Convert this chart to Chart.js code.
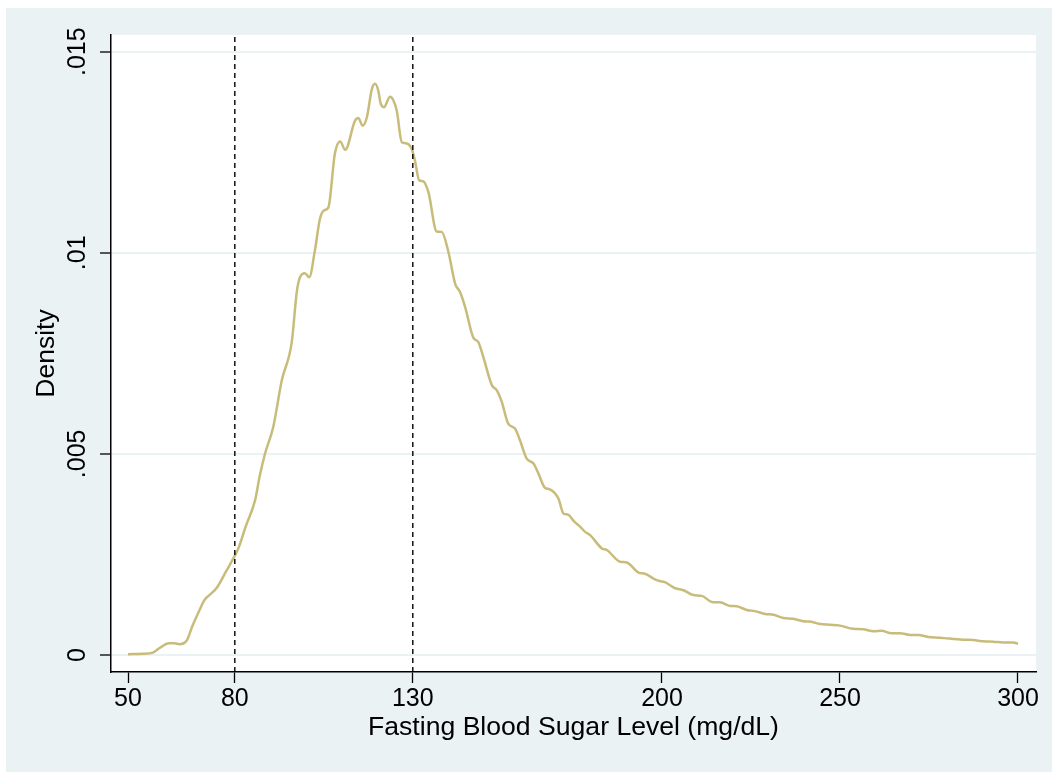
<!DOCTYPE html>
<html>
<head>
<meta charset="utf-8">
<script src="https://cdn.jsdelivr.net/npm/chart.js@4.4.0/dist/chart.umd.min.js"></script>
<style>
  html, body { margin: 0; padding: 0; background: #fff; }
</style>
</head>
<body>
<canvas id="graficoDensidad" width="1052" height="772"></canvas>
<script>
// valores (mg/dL, densidad)
let sugarLevels = [
  50, 54, 57, 59, 61.5, 63, 64.5, 66.5, 68, 70, 71.5, 73, 75, 77.5, 80, 81, 83, 85.7, 87, 88.5,
  90.8, 93.2, 96, 97.4, 98.3, 99.7, 100.9, 102.5, 103.9, 105, 106.3, 108.1, 109.6, 111, 113.8, 114.7,
  115.9, 117.1, 118.5, 119.4, 120.3, 121, 121.9, 123.6, 124.5, 125.5, 126.9, 128.3, 129.7, 130.6,
  131.8, 132.9, 134.4, 136.7, 138.1, 140, 141.9, 143.3, 144.7, 147, 148.4, 149.8, 152.2, 153.6,
  155, 156.8, 158.7, 160.1, 162, 163.9, 165.3, 167.1, 168.5, 170.9, 172.3, 173.6, 175.3, 177,
  178.4, 179.8, 183.1, 184.5, 188.2, 190.1, 193.4, 195.2, 198.5, 200.8, 203.7, 206, 208.8, 211.2,
  214, 216.3, 219.1, 221, 223.8, 226.1, 229, 231.3, 234.1, 236.9, 239.7, 241.6, 244.4, 247.2, 250,
  253.7, 256.5, 259.4, 261.7, 264.5, 266.9, 269.7, 272, 274.8, 278.1, 280.4, 284.6, 287.4, 290.3,
  293.1, 295.9, 298.7, 300
];
let densities = [
  0.00002, 0.00003, 0.00006, 0.00018, 0.00029, 0.00029, 0.00027, 0.00036, 0.00070, 0.00110, 0.00137,
  0.00150, 0.00168, 0.00207, 0.00247, 0.00265, 0.00318, 0.00385, 0.00445, 0.00501,
  0.00567, 0.00683, 0.00778, 0.00902, 0.00939, 0.00949, 0.00939, 0.01006, 0.01084, 0.01105, 0.01113,
  0.01246, 0.01277, 0.01256, 0.01329, 0.01335,
  0.01316, 0.01337, 0.01407, 0.01420, 0.01403, 0.01370, 0.01362, 0.01388, 0.01380, 0.01353, 0.01275,
  0.01272, 0.01258, 0.01229,
  0.01180, 0.01178, 0.01150, 0.01053, 0.01052, 0.01002, 0.00923, 0.00902, 0.00865, 0.00789, 0.00778,
  0.00741, 0.00671, 0.00658,
  0.00629, 0.00575, 0.00563, 0.00534, 0.00488, 0.00476, 0.00451, 0.00416, 0.00412, 0.00389, 0.00352,
  0.00349, 0.00332, 0.00319,
  0.00306, 0.00298, 0.00265, 0.00261, 0.00232, 0.00230, 0.00205, 0.00202, 0.00186, 0.00181, 0.00166,
  0.00161, 0.00149, 0.00147,
  0.00132, 0.00131, 0.00122, 0.00121, 0.00112, 0.00109, 0.00102, 0.00100, 0.00092, 0.00090, 0.00084,
  0.00083, 0.00077, 0.00075, 0.00073,
  0.00065, 0.00064, 0.00059, 0.00060, 0.00054, 0.00054, 0.00050, 0.00050, 0.00045, 0.00043, 0.00041,
  0.00038, 0.00037, 0.00034,
  0.00033, 0.00031, 0.00031, 0.00028
];
let cutoffLevels = [80, 130];
let xTickValues = [50, 80, 130, 200, 250, 300];
let yTickValues = [0, 0.005, 0.01, 0.015];
let yTickLabels = ["0", ".005", ".01", ".015"];
let xRange = [45.22, 305.06];
let yRange = [-0.000423, 0.015415];

const fuente = '"Liberation Sans", Arial, Helvetica, sans-serif';
const fondoStata = 'rgb(234,242,243)';

Chart.defaults.font.family = fuente;
Chart.defaults.color = '#000';

// fondo gris exterior y región blanca del gráfico
let fondo = {
  id: 'fondo',
  beforeDraw(chart) {
    const { ctx, chartArea: a } = chart;
    ctx.save();
    ctx.fillStyle = '#fff';
    ctx.fillRect(0, 0, chart.width, chart.height);
    ctx.fillStyle = fondoStata;
    ctx.fillRect(6, 8, chart.width - 6, chart.height - 8);
    ctx.fillStyle = '#fff';
    ctx.fillRect(a.left, a.top, a.right - a.left, a.bottom - a.top);
    ctx.restore();
  }
};

// etiquetas del eje y giradas como en Stata
let etiquetasY = {
  id: 'etiquetasY',
  afterDraw(chart) {
    const { ctx } = chart;
    const escala = chart.scales.y;
    ctx.save();
    ctx.font = '25px ' + fuente;
    ctx.fillStyle = '#000';
    ctx.textAlign = 'center';
    ctx.textBaseline = 'middle';
    yTickValues.forEach((v, i) => {
      ctx.save();
      ctx.translate(78, escala.getPixelForValue(v));
      ctx.rotate(-Math.PI / 2);
      ctx.fillText(yTickLabels[i], 0, 0);
      ctx.restore();
    });
    ctx.restore();
  }
};

let datasets = [
  {
    label: 'Density',
    data: sugarLevels.map((x, i) => ({ x: x, y: densities[i] })),
    borderColor: 'rgb(200,188,122)',
    borderWidth: 2.5,
    pointRadius: 0,
    cubicInterpolationMode: 'monotone',
    order: 1,
  }
];
cutoffLevels.forEach(c => {
  datasets.push({
    label: 'corte ' + c,
    data: [{ x: c, y: yRange[0] }, { x: c, y: yRange[1] }],
    borderColor: '#000',
    borderWidth: 1.4,
    borderDash: [5, 4],
    pointRadius: 0,
    order: 0,
  });
});

let ctx = document.getElementById('graficoDensidad').getContext('2d');

let graficoDensidad = new Chart(ctx, {
  type: 'line',
  data: { datasets: datasets },
  options: {
    responsive: false,
    animation: false,
    layout: { padding: { left: 0, top: 35, right: 16, bottom: 0 } },
    plugins: {
      legend: { display: false },
      tooltip: { enabled: false },
    },
    scales: {
      x: {
        type: 'linear',
        min: xRange[0],
        max: xRange[1],
        afterBuildTicks: s => { s.ticks = xTickValues.map(v => ({ value: v })); },
        afterFit: s => { s.height = 100; },
        ticks: {
          font: { size: 25 },
          padding: 1,
          maxRotation: 0,
          autoSkip: false,
          callback: v => String(v),
        },
        grid: {
          drawOnChartArea: false,
          drawTicks: true,
          tickLength: 11,
          tickColor: '#000',
          tickWidth: 1.3,
        },
        border: { display: true, color: '#000', width: 1.5 },
        title: {
          display: true,
          text: 'Fasting Blood Sugar Level (mg/dL)',
          font: { size: 26.6 },
          padding: { top: 0, bottom: 28 },
        },
      },
      y: {
        type: 'linear',
        min: yRange[0],
        max: yRange[1],
        afterBuildTicks: s => { s.ticks = yTickValues.map(v => ({ value: v })); },
        afterFit: s => { s.width = 111; },
        ticks: { display: false },
        grid: {
          color: fondoStata,
          lineWidth: 2,
          drawTicks: true,
          tickLength: 11,
          tickColor: '#000',
          tickWidth: 1.3,
        },
        border: { display: true, color: '#000', width: 1.5 },
        title: {
          display: true,
          text: 'Density',
          font: { size: 26.5 },
          padding: { top: 31, bottom: 0 },
        },
      },
    },
  },
  plugins: [fondo, etiquetasY],
});
</script>
</body>
</html>
